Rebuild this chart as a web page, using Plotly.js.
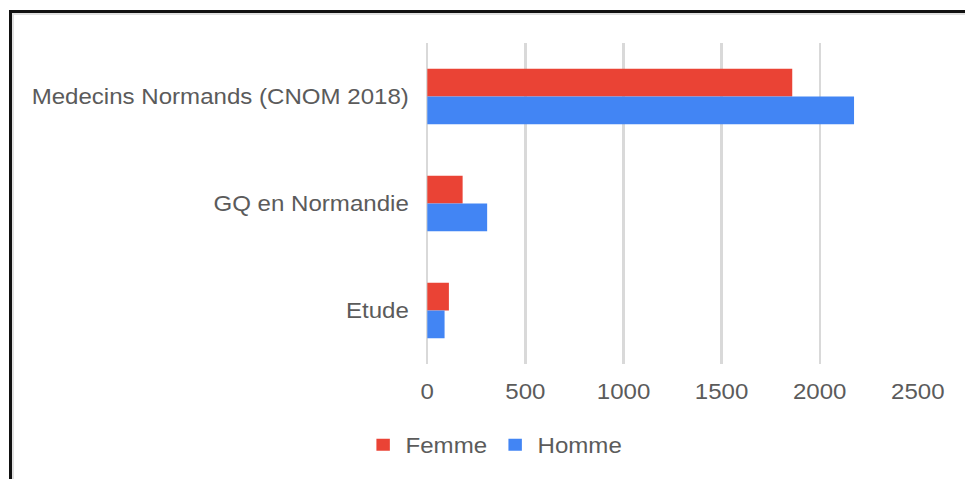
<!DOCTYPE html>
<html>
<head>
<meta charset="utf-8">
<script src="https://cdn.plot.ly/plotly-3.0.1.min.js"></script>
<style>
  html, body { margin: 0; padding: 0; background: #fff; overflow: hidden; width: 965px; height: 479px; }
  #wrap { position: absolute; left: 0; top: 0; width: 965px; height: 479px; overflow: hidden; }
  #chart { position: absolute; left: 0; top: 0; width: 862px; height: 479px; transform: scaleX(1.12); transform-origin: 0 0; }
  #frame { position: absolute; left: 9px; top: 10px; width: 2000px; height: 2000px;
           border-top: 3px solid #111; border-left: 3px solid #111;
           box-shadow: inset 2px 2px 0 #e0e0e0; pointer-events: none; z-index: 10; }
</style>
</head>
<body>
<div id="wrap">
  <div id="chart"></div>
  <div id="frame"></div>
</div>
<script>
const categories = ["Medecins Normands (CNOM 2018)", "GQ en Normandie", "Etude"];
const femme = [1860, 180, 110];
const homme = [2175, 305, 88];
const seriesNames = ["Femme", "Homme"];
const xTicks = [0, 500, 1000, 1500, 2000, 2500];

const textColor = "#5b5b5b";
const fontFamily = "Liberation Sans, Arial, sans-serif";

const traces = [
  { type: "bar", orientation: "h", name: seriesNames[0], y: categories, x: femme,
    marker: { color: "#ea4335" }, hoverinfo: "x+name" },
  { type: "bar", orientation: "h", name: seriesNames[1], y: categories, x: homme,
    marker: { color: "#4285f4" }, hoverinfo: "x+name" }
];

const layout = {
  width: 862, height: 479,
  margin: { l: 381, r: 42, t: 43, b: 115, pad: 0 },
  paper_bgcolor: "#ffffff",
  plot_bgcolor: "#ffffff",
  font: { family: fontFamily, size: 21.5, color: textColor },
  barmode: "group",
  bargap: 0.48,
  bargroupgap: 0,
  showlegend: true,
  legend: {
    orientation: "h", x: 0.138, xanchor: "center", y: -0.252, yanchor: "middle",
    font: { family: fontFamily, size: 21.5, color: textColor },
    traceorder: "normal", itemclick: false, itemwidth: 30
  },
  xaxis: {
    range: [-3, 2503], tickvals: xTicks, ticktext: xTicks.map(String),
    showgrid: true, gridcolor: "#d9d9d9", gridwidth: 2,
    zeroline: true, zerolinecolor: "#d9d9d9", zerolinewidth: 2,
    showline: false, ticks: "", ticklabelstandoff: 13,
    tickfont: { family: fontFamily, size: 21.5, color: textColor },
    fixedrange: true
  },
  yaxis: {
    type: "category", categoryorder: "array", categoryarray: categories,
    range: [2.5, -0.5], showgrid: false, zeroline: false, showline: false,
    ticks: "", ticklabelstandoff: 15,
    tickfont: { family: fontFamily, size: 21.5, color: textColor },
    fixedrange: true
  }
};

Plotly.newPlot("chart", traces, layout, { displayModeBar: false, staticPlot: true });
</script>
</body>
</html>
